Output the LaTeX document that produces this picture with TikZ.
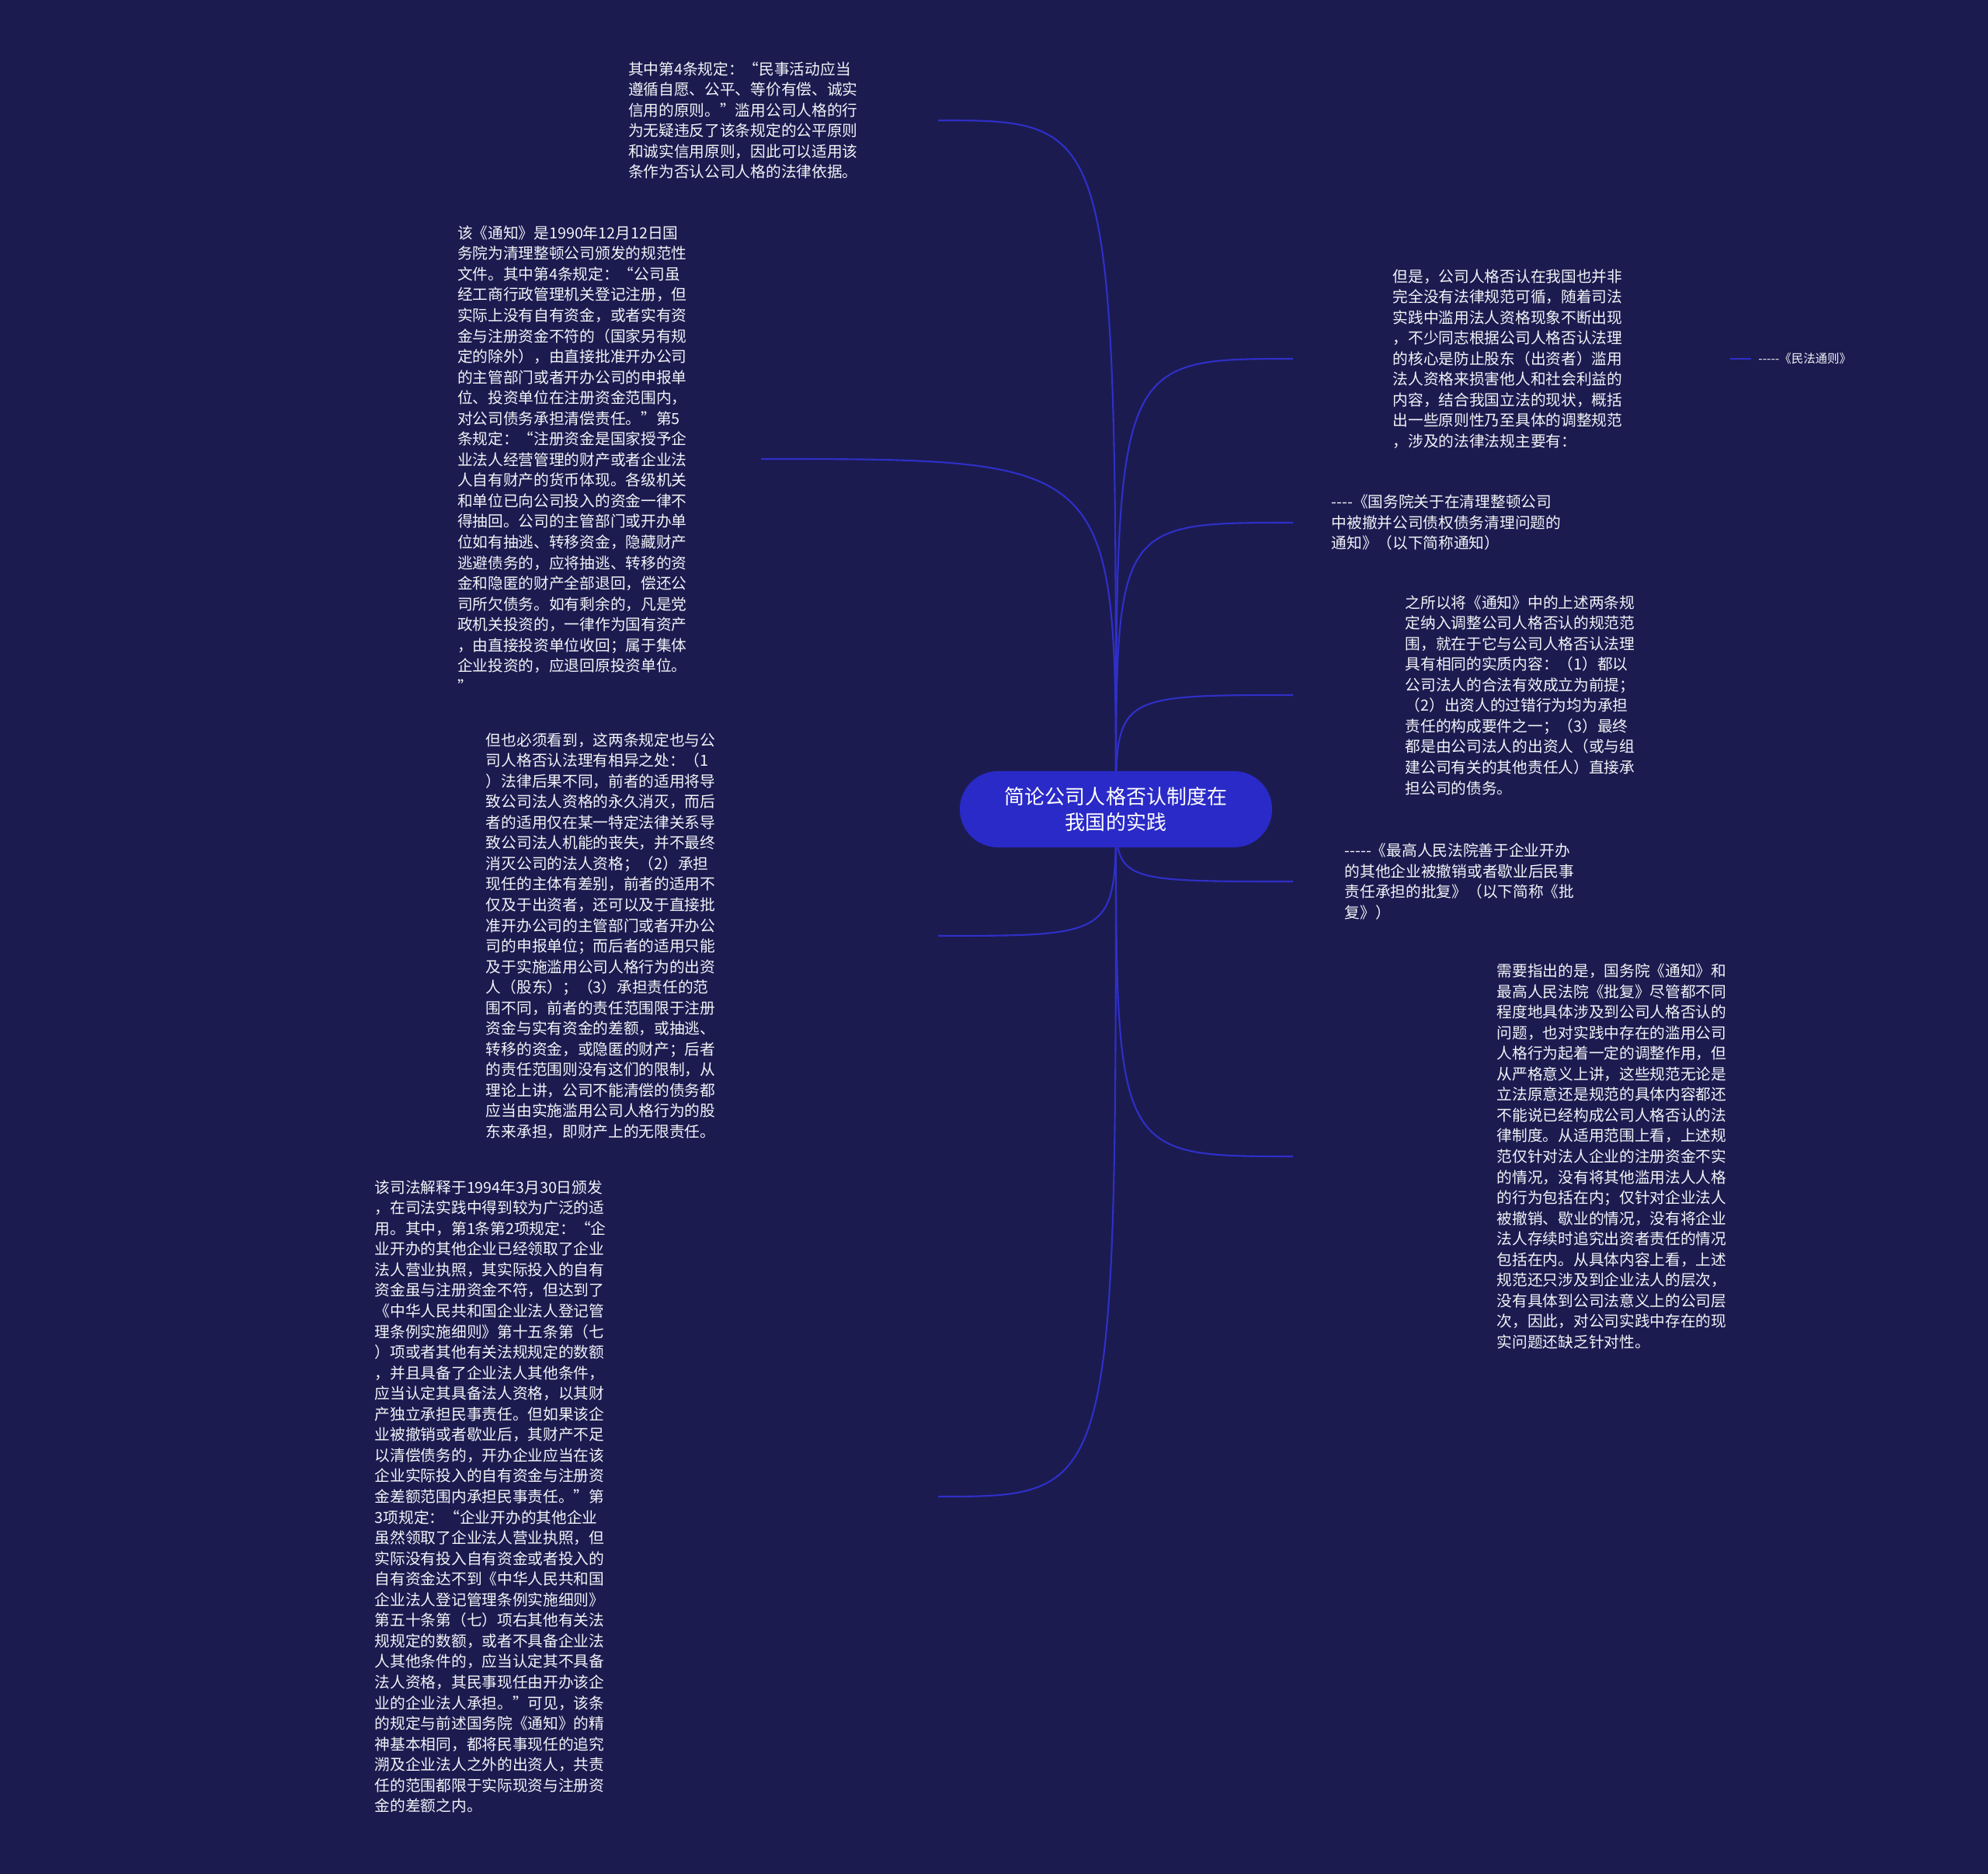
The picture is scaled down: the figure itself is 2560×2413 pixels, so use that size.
\documentclass[tikz,border=0pt]{standalone}
\usepackage{fontspec}
\setmainfont{Noto Sans CJK SC}[Ligatures=TeXOff]
\usetikzlibrary{positioning,backgrounds}
\usepackage{xcolor}
\definecolor{bgnavy}{HTML}{1B1B50}
\definecolor{linkblue}{HTML}{2F2FC8}
\definecolor{hubblue}{HTML}{2A2AC8}
\definecolor{paper}{HTML}{F4F4F8}

\begin{document}
\begin{tikzpicture}[x=0.01cm, y=-0.01cm,
  hub/.style={fill=hubblue, text=white, rounded corners=0.49cm,
              minimum width=4.02cm, minimum height=0.98cm, inner sep=0pt,
              font=\fontsize{7.4pt}{9.3pt}\selectfont, align=center},
  leaf/.style={text=paper, font=\fontsize{5.6pt}{7.55pt}\selectfont,
               align=left, text width=3cm, inner ysep=0pt},
  tag/.style={text=paper, font=\fontsize{4.4pt}{5.5pt}\selectfont,
              inner xsep=0.09cm, inner ysep=0pt},
  link/.style={draw=linkblue, line width=0.6pt}
]
  % Canvas
  \useasboundingbox (0,0) rectangle (2560,2413);
  \begin{scope}[on background layer]
    \fill[bgnavy] (0,0) rectangle (2560,2413);
  \end{scope}

  % Central topic
  \node[hub] (root) at (1437,1042) {简论公司人格否认制度在\\我国的实践};

  % Left branches
  \node[leaf, anchor=east, inner xsep=0.98cm] (clause4) at (1208,155)
    {其中第4条规定：“民事活动应当\\遵循自愿、公平、等价有偿、诚实\\信用的原则。”滥用公司人格的行\\为无疑违反了该条规定的公平原则\\和诚实信用原则，因此可以适用该\\条作为否认公司人格的法律依据。};

  \node[leaf, anchor=east, inner xsep=0.90cm] (noticetext) at (980,591)
    {该《通知》是1990年12月12日国\\务院为清理整顿公司颁发的规范性\\文件。其中第4条规定：“公司虽\\经工商行政管理机关登记注册，但\\实际上没有自有资金，或者实有资\\金与注册资金不符的（国家另有规\\定的除外），由直接批准开办公司\\的主管部门或者开办公司的申报单\\位、投资单位在注册资金范围内，\\对公司债务承担清偿责任。”第5\\条规定：“注册资金是国家授予企\\业法人经营管理的财产或者企业法\\人自有财产的货币体现。各级机关\\和单位已向公司投入的资金一律不\\得抽回。公司的主管部门或开办单\\位如有抽逃、转移资金，隐藏财产\\逃避债务的，应将抽逃、转移的资\\金和隐匿的财产全部退回，偿还公\\司所欠债务。如有剩余的，凡是党\\政机关投资的，一律作为国有资产\\，由直接投资单位收回；属于集体\\企业投资的，应退回原投资单位。\\”};

  \node[leaf, anchor=east, inner xsep=2.81cm] (contrast) at (1208,1205)
    {但也必须看到，这两条规定也与公\\司人格否认法理有相异之处：（1\\）法律后果不同，前者的适用将导\\致公司法人资格的永久消灭，而后\\者的适用仅在某一特定法律关系导\\致公司法人机能的丧失，并不最终\\消灭公司的法人资格；（2）承担\\现任的主体有差别，前者的适用不\\仅及于出资者，还可以及于直接批\\准开办公司的主管部门或者开办公\\司的申报单位；而后者的适用只能\\及于实施滥用公司人格行为的出资\\人（股东）；（3）承担责任的范\\围不同，前者的责任范围限于注册\\资金与实有资金的差额，或抽逃、\\转移的资金，或隐匿的财产；后者\\的责任范围则没有这们的限制，从\\理论上讲，公司不能清偿的债务都\\应当由实施滥用公司人格行为的股\\东来承担，即财产上的无限责任。};

  \node[leaf, anchor=east, inner xsep=4.24cm] (interp) at (1208,1927)
    {该司法解释于1994年3月30日颁发\\，在司法实践中得到较为广泛的适\\用。其中，第1条第2项规定：“企\\业开办的其他企业已经领取了企业\\法人营业执照，其实际投入的自有\\资金虽与注册资金不符，但达到了\\《中华人民共和国企业法人登记管\\理条例实施细则》第十五条第（七\\）项或者其他有关法规规定的数额\\，并且具备了企业法人其他条件，\\应当认定其具备法人资格，以其财\\产独立承担民事责任。但如果该企\\业被撤销或者歇业后，其财产不足\\以清偿债务的，开办企业应当在该\\企业实际投入的自有资金与注册资\\金差额范围内承担民事责任。”第\\3项规定：“企业开办的其他企业\\虽然领取了企业法人营业执照，但\\实际没有投入自有资金或者投入的\\自有资金达不到《中华人民共和国\\企业法人登记管理条例实施细则》\\第五十条第（七）项右其他有关法\\规规定的数额，或者不具备企业法\\人其他条件的，应当认定其不具备\\法人资格，其民事现任由开办该企\\业的企业法人承担。”可见，该条\\的规定与前述国务院《通知》的精\\神基本相同，都将民事现任的追究\\溯及企业法人之外的出资人，共责\\任的范围都限于实际现资与注册资\\金的差额之内。};

  % Right branches
  \node[leaf, anchor=west, inner xsep=1.28cm, text width=3.05cm] (basis) at (1665,462)
    {但是，公司人格否认在我国也并非\\完全没有法律规范可循，随着司法\\实践中滥用法人资格现象不断出现\\，不少同志根据公司人格否认法理\\的核心是防止股东（出资者）滥用\\法人资格来损害他人和社会利益的\\内容，结合我国立法的现状，概括\\出一些原则性乃至具体的调整规范\\，涉及的法律法规主要有：};
  \node[tag, right=0.27cm of basis] (civilcode) {-----《民法通则》};

  \node[leaf, anchor=west, inner xsep=0.49cm] (notice) at (1665,673)
    {----《国务院关于在清理整顿公司\\中被撤并公司债权债务清理问题的\\通知》（以下简称通知）};

  \node[leaf, anchor=west, inner xsep=1.44cm] (sameness) at (1665,895)
    {之所以将《通知》中的上述两条规\\定纳入调整公司人格否认的规范范\\围，就在于它与公司人格否认法理\\具有相同的实质内容：（1）都以\\公司法人的合法有效成立为前提；\\（2）出资人的过错行为均为承担\\责任的构成要件之一；（3）最终\\都是由公司法人的出资人（或与组\\建公司有关的其他责任人）直接承\\担公司的债务。};

  \node[leaf, anchor=west, inner xsep=0.66cm] (reply) at (1665,1135)
    {-----《最高人民法院善于企业开办\\的其他企业被撤销或者歇业后民事\\责任承担的批复》（以下简称《批\\复》）};

  \node[leaf, anchor=west, inner xsep=2.62cm] (remark) at (1665,1489)
    {需要指出的是，国务院《通知》和\\最高人民法院《批复》尽管都不同\\程度地具体涉及到公司人格否认的\\问题，也对实践中存在的滥用公司\\人格行为起着一定的调整作用，但\\从严格意义上讲，这些规范无论是\\立法原意还是规范的具体内容都还\\不能说已经构成公司人格否认的法\\律制度。从适用范围上看，上述规\\范仅针对法人企业的注册资金不实\\的情况，没有将其他滥用法人人格\\的行为包括在内；仅针对企业法人\\被撤销、歇业的情况，没有将企业\\法人存续时追究出资者责任的情况\\包括在内。从具体内容上看，上述\\规范还只涉及到企业法人的层次，\\没有具体到公司法意义上的公司层\\次，因此，对公司实践中存在的现\\实问题还缺乏针对性。};

  % Connectors (behind the central topic)
  \begin{scope}[on background layer]
    \draw[link] (root.center) .. controls (root.center |- clause4.east) .. (clause4.east);
    \draw[link] (root.center) .. controls (root.center |- noticetext.east) .. (noticetext.east);
    \draw[link] (root.center) .. controls (root.center |- contrast.east) .. (contrast.east);
    \draw[link] (root.center) .. controls (root.center |- interp.east) .. (interp.east);
    \draw[link] (root.center) .. controls (root.center |- basis.west) .. (basis.west);
    \draw[link] (root.center) .. controls (root.center |- notice.west) .. (notice.west);
    \draw[link] (root.center) .. controls (root.center |- sameness.west) .. (sameness.west);
    \draw[link] (root.center) .. controls (root.center |- reply.west) .. (reply.west);
    \draw[link] (root.center) .. controls (root.center |- remark.west) .. (remark.west);
    \draw[link] (basis.east) -- (civilcode.west);
  \end{scope}
\end{tikzpicture}
\end{document}
